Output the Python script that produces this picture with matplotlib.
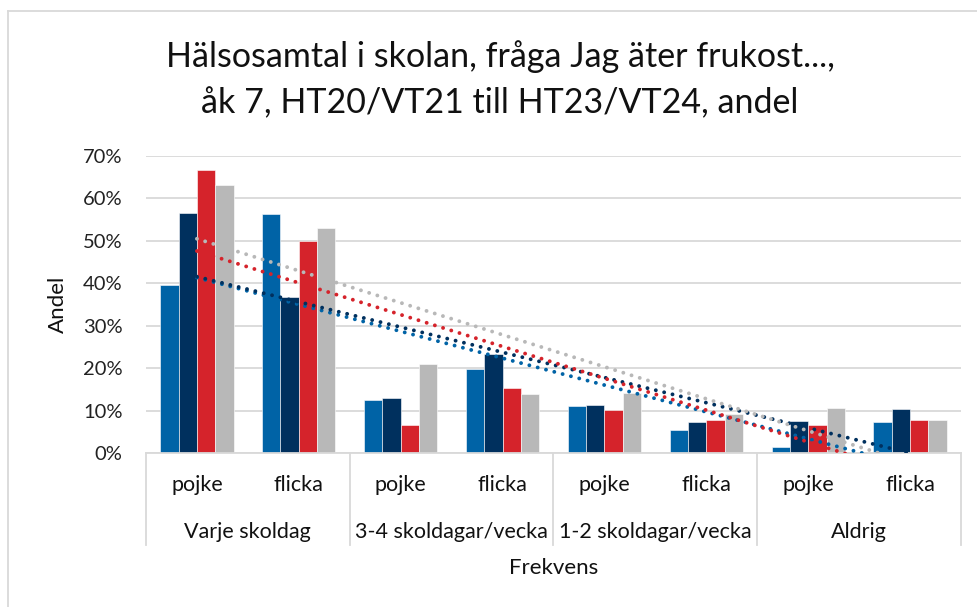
import numpy as np
import matplotlib.pyplot as plt
from matplotlib.lines import Line2D
from matplotlib.ticker import PercentFormatter
import matplotlib.transforms as mtransforms

plt.rcParams['font.family'] = ['Lato', 'DejaVu Sans']

# data
kon = ['pojke', 'flicka', 'pojke', 'flicka', 'pojke', 'flicka', 'pojke', 'flicka']
frekvens = ['Varje skoldag', '3-4 skoldagar/vecka', '1-2 skoldagar/vecka', 'Aldrig']
series = ['HT20/VT21', 'HT21/VT22', 'HT22/VT23', 'HT23/VT24']
colors = ['#0063A6', '#00305E', '#D5232B', '#B8B8B8']

ht20 = [0.397, 0.563, 0.125, 0.198, 0.111, 0.054, 0.014, 0.072]
ht21 = [0.566, 0.367, 0.130, 0.233, 0.114, 0.073, 0.075, 0.103]
ht22 = [0.666, 0.500, 0.065, 0.154, 0.101, 0.078, 0.066, 0.078]
ht23 = [0.631, 0.530, 0.209, 0.139, 0.141, 0.093, 0.106, 0.078]
values = [ht20, ht21, ht22, ht23]

W, H = 978, 607
fig = plt.figure(figsize=(W / 100, H / 100), dpi=100)
ax = fig.add_axes([146 / W, 1 - 453 / H, 815 / W, 297 / H])

x = np.arange(len(kon))
bw = 0.18
for i, (vals, c) in enumerate(zip(values, colors)):
    ax.bar(x + (i - 1.5) * bw, vals, bw, color=c, label=series[i],
           edgecolor='white', linewidth=0.4, zorder=2)

# linear trend lines, as in the original
for vals, c in zip(values, colors):
    k, m = np.polyfit(x, vals, 1)
    ax.plot(x, k * x + m, color=c, linestyle=(0, (0.01, 2.2)), linewidth=2.8,
            dash_capstyle='round', zorder=3)

ax.set_xlim(-0.5, 7.5)
ax.set_ylim(0, 0.7)
ax.set_yticks(np.arange(0, 0.71, 0.1))
ax.yaxis.set_major_formatter(PercentFormatter(1.0, decimals=0))
ax.tick_params(axis='y', length=0, labelsize=14.5, pad=17, colors='#222222')
ax.set_xticks([])
ax.grid(axis='y', color='#D9D9D9', linewidth=1.3, zorder=0)
for s in ['top', 'right', 'left']:
    ax.spines[s].set_visible(False)
ax.spines['bottom'].set_color('#D9D9D9')
ax.spines['bottom'].set_linewidth(1.3)

# two-level category axis
trans = mtransforms.blended_transform_factory(ax.transData, ax.transAxes)
for xs in [-0.5, 1.5, 3.5, 5.5, 7.5]:
    ax.add_line(Line2D([xs, xs], [0, -0.31], transform=trans, color='#D9D9D9',
                       linewidth=1.3, clip_on=False))
for xi, lab in zip(x, kon):
    ax.text(xi, -0.108, lab, transform=trans, ha='center', va='center',
            fontsize=15.5, color='#111111')
for gi, lab in enumerate(frekvens):
    ax.text(2 * gi + 0.5, -0.266, lab, transform=trans, ha='center', va='center',
            fontsize=15.5, color='#111111')
ax.text(0.5, -0.387, 'Frekvens', transform=ax.transAxes, ha='center', va='center',
        fontsize=16, color='#111111')

fig.text(58 / W, 1 - 304 / H, 'Andel', rotation=90, ha='center', va='center',
         fontsize=16, color='#111111')

fig.text(500 / W, 1 - 57 / H, 'Hälsosamtal i skolan, fråga Jag äter frukost...,',
         ha='center', va='center', fontsize=24.5, color='#111111')
fig.text(500 / W, 1 - 103 / H, 'åk 7, HT20/VT21 till HT23/VT24, andel',
         ha='center', va='center', fontsize=24.5, color='#111111')

# chart area border
fig.add_artist(Line2D([8 / W, 8 / W], [0, 1 - 11 / H], color='#D9D9D9', linewidth=1.3))
fig.add_artist(Line2D([8 / W, 1], [1 - 11 / H, 1 - 11 / H], color='#D9D9D9', linewidth=1.3))

fig.savefig('out.png', dpi=100)
